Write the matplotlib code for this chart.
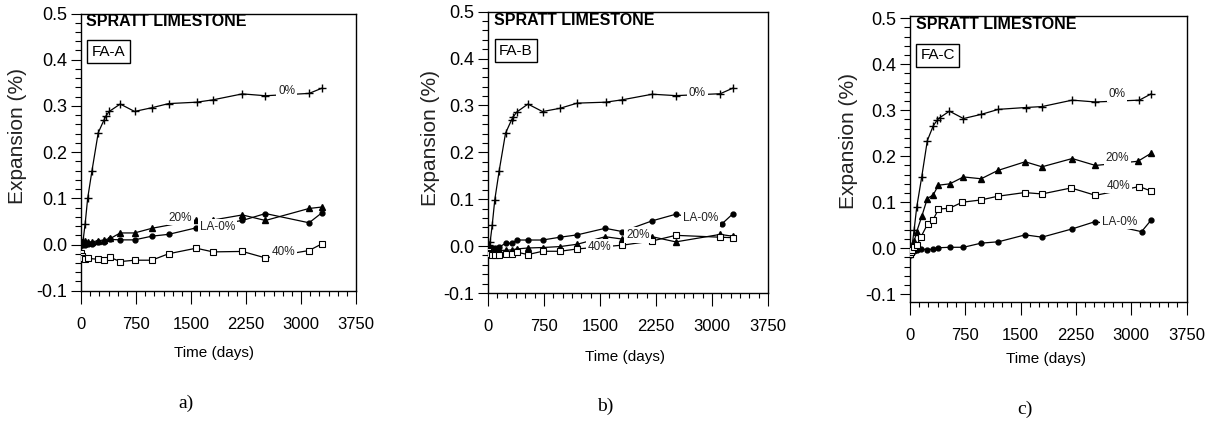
import matplotlib
matplotlib.use("Agg")
import matplotlib.pyplot as plt
from matplotlib.ticker import MultipleLocator, FormatStrFormatter

plt.rcParams["font.family"] = ["Liberation Sans", "DejaVu Sans"]
NARROW = ["Liberation Sans Narrow", "Liberation Sans", "DejaVu Sans"]

# ---- data (days, expansion %) ----
# panel a) FA-A
a_days_0 = [0, 14, 28, 56, 91, 150, 235, 315, 340, 385, 535, 730, 965, 1195, 1575, 1795, 2200, 2515, 3110, 3280]
a_exp_0 = [0.0, 0.003, 0.008, 0.044, 0.10, 0.16, 0.242, 0.27, 0.278, 0.288, 0.304, 0.288, 0.296, 0.305, 0.308, 0.313, 0.326, 0.322, 0.327, 0.338]
a_days_20 = [0, 14, 28, 56, 91, 150, 235, 315, 400, 535, 730, 965, 1570, 1800, 2200, 2515, 3110, 3280]
a_exp_20 = [0.002, 0.006, 0.004, 0.008, 0.005, 0.006, 0.008, 0.010, 0.013, 0.025, 0.025, 0.035, 0.053, 0.053, 0.064, 0.052, 0.078, 0.081]
a_days_la = [0, 14, 28, 56, 91, 150, 235, 315, 400, 535, 730, 965, 1195, 1570, 2200, 2515, 3110, 3280]
a_exp_la = [-0.002, 0.0, 0.002, 0.0, 0.001, 0.002, 0.005, 0.005, 0.011, 0.010, 0.010, 0.018, 0.022, 0.036, 0.052, 0.067, 0.047, 0.068]
a_days_40 = [0, 14, 28, 56, 91, 235, 315, 400, 535, 730, 965, 1195, 1570, 1800, 2200, 2515, 3110, 3280]
a_exp_40 = [-0.018, -0.025, -0.030, -0.032, -0.030, -0.032, -0.034, -0.028, -0.037, -0.034, -0.034, -0.020, -0.008, -0.016, -0.015, -0.029, -0.013, 0.001]

# panel b) FA-B
b_days_0 = [0, 14, 28, 56, 91, 150, 235, 315, 340, 385, 535, 730, 965, 1195, 1575, 1795, 2200, 2515, 3110, 3280]
b_exp_0 = [0.0, 0.003, 0.008, 0.044, 0.099, 0.161, 0.241, 0.269, 0.276, 0.286, 0.303, 0.287, 0.294, 0.305, 0.307, 0.312, 0.324, 0.321, 0.325, 0.337]
b_days_la = [0, 14, 28, 56, 91, 150, 235, 315, 385, 535, 730, 965, 1195, 1570, 1800, 2200, 2515, 3130, 3280]
b_exp_la = [-0.002, -0.004, -0.003, -0.005, -0.004, -0.002, 0.006, 0.006, 0.013, 0.013, 0.013, 0.019, 0.024, 0.038, 0.031, 0.054, 0.068, 0.047, 0.069]
b_days_20 = [0, 14, 28, 56, 91, 150, 235, 315, 385, 535, 730, 965, 1195, 1570, 1800, 2200, 2515, 3110, 3280]
b_exp_20 = [-0.002, -0.006, -0.008, -0.009, -0.010, -0.009, -0.009, -0.008, -0.006, -0.004, -0.003, -0.001, 0.004, 0.020, 0.015, 0.020, 0.009, 0.025, 0.021]
b_days_40 = [0, 14, 28, 56, 91, 150, 235, 315, 385, 535, 730, 965, 1195, 1800, 2200, 2515, 3110, 3280]
b_exp_40 = [-0.010, -0.014, -0.016, -0.018, -0.020, -0.018, -0.016, -0.017, -0.013, -0.018, -0.011, -0.011, -0.006, 0.002, 0.011, 0.023, 0.019, 0.018]

# panel c) FA-C
c_days_0 = [0, 14, 28, 56, 91, 159, 235, 315, 370, 405, 535, 725, 965, 1200, 1570, 1790, 2200, 2515, 3110, 3275]
c_exp_0 = [-0.010, -0.005, 0.005, 0.040, 0.089, 0.155, 0.234, 0.266, 0.279, 0.284, 0.298, 0.282, 0.291, 0.302, 0.306, 0.308, 0.322, 0.318, 0.322, 0.336]
c_days_20 = [0, 14, 28, 56, 91, 159, 235, 315, 385, 540, 725, 965, 1190, 1562, 1790, 2200, 2515, 3090, 3265]
c_exp_20 = [-0.012, -0.005, 0.0, 0.015, 0.036, 0.069, 0.108, 0.116, 0.137, 0.140, 0.155, 0.151, 0.169, 0.188, 0.177, 0.195, 0.180, 0.189, 0.206]
c_days_40 = [0, 14, 28, 56, 91, 150, 240, 315, 385, 535, 710, 965, 1190, 1555, 1790, 2185, 2515, 3110, 3275]
c_exp_40 = [-0.012, -0.008, -0.003, 0.002, 0.006, 0.025, 0.053, 0.062, 0.085, 0.087, 0.100, 0.105, 0.113, 0.121, 0.118, 0.131, 0.115, 0.134, 0.124]
c_days_la = [0, 14, 28, 56, 91, 150, 235, 315, 385, 540, 725, 965, 1200, 1562, 1790, 2200, 2515, 3140, 3275]
c_exp_la = [-0.015, -0.012, -0.008, -0.005, -0.003, -0.002, -0.003, -0.002, 0.001, 0.002, 0.002, 0.011, 0.014, 0.029, 0.024, 0.042, 0.058, 0.036, 0.062]

panel_names = ["FA-A", "FA-B", "FA-C"]
captions = ["a)", "b)", "c)"]
x_ticks = [0, 750, 1500, 2250, 3000, 3750]

# inline series labels: (text, day, expansion)
a_labels = [("0%", 2690, 0.332), ("20%", 1195, 0.058), ("LA-0%", 1620, 0.038), ("40%", 2600, -0.017)]
b_labels = [("0%", 2690, 0.326), ("LA-0%", 2610, 0.059), ("20%", 1850, 0.024), ("40%", 1340, -0.002)]
c_labels = [("0%", 2690, 0.335), ("20%", 2650, 0.196), ("40%", 2670, 0.136), ("LA-0%", 2600, 0.058)]

W, H = 1213, 425
fig = plt.figure(figsize=(W / 100, H / 100), dpi=100)


def px_axes(l, t, r, b):
    return fig.add_axes([l / W, 1 - b / H, (r - l) / W, (b - t) / H])


def draw_panel(ax, series, labels, name, ylim):
    styles = {
        "0": dict(marker="+", ms=5.5, mew=1.0, color="black"),
        "20": dict(marker="^", ms=4, color="black"),
        "la": dict(marker="o", ms=3.5, color="black"),
        "40": dict(marker="s", ms=4, mfc="white", mec="black", mew=0.8, color="black"),
    }
    for key, days, vals in series:
        ax.plot(days, vals, lw=0.9, zorder=3, **styles[key])
    for txt, x, y in labels:
        ax.text(x, y, txt, ha="left", va="center", fontsize=8.5, color="#222222",
                bbox=dict(boxstyle="square,pad=0.15", fc="white", ec="none"), zorder=5)

    ax.set_xlim(0, 3750)
    ax.set_ylim(*ylim)
    ax.xaxis.set_major_locator(MultipleLocator(750))
    ax.xaxis.set_minor_locator(MultipleLocator(125))
    ax.yaxis.set_major_locator(MultipleLocator(0.1))
    ax.yaxis.set_minor_locator(MultipleLocator(0.02))
    ax.yaxis.set_major_formatter(FormatStrFormatter("%.1f"))
    ax.set_xticks(x_ticks)
    ax.tick_params(axis="x", which="major", direction="out", length=9, width=0.8, pad=10, labelsize=12)
    ax.tick_params(axis="x", which="minor", direction="out", length=3.5, width=0.8)
    ax.tick_params(axis="y", which="major", direction="out", length=7, width=0.8, pad=3, labelsize=13)
    ax.tick_params(axis="y", which="minor", direction="out", length=4, width=0.8)
    for lab in ax.get_xticklabels():
        lab.set_family(NARROW)
    for sp in ax.spines.values():
        sp.set_linewidth(1.0)

    ax.text(0.02, 0.97, "SPRATT LIMESTONE", transform=ax.transAxes, ha="left", va="center",
            fontsize=11.5, fontweight="bold")
    ax.text(0.10, 0.862, name, transform=ax.transAxes, ha="center", va="center", fontsize=11,
            bbox=dict(boxstyle="square,pad=0.3", fc="white", ec="black", lw=1.0))


ax_a = px_axes(81, 13.5, 356, 290.7)
ax_b = px_axes(488, 11.7, 768, 293)
ax_c = px_axes(910, 16, 1186.5, 302)

draw_panel(ax_a, [("0", a_days_0, a_exp_0), ("20", a_days_20, a_exp_20),
                  ("la", a_days_la, a_exp_la), ("40", a_days_40, a_exp_40)],
           a_labels, panel_names[0], (-0.1, 0.5))
draw_panel(ax_b, [("0", b_days_0, b_exp_0), ("20", b_days_20, b_exp_20),
                  ("la", b_days_la, b_exp_la), ("40", b_days_40, b_exp_40)],
           b_labels, panel_names[1], (-0.1, 0.5))
draw_panel(ax_c, [("0", c_days_0, c_exp_0), ("20", c_days_20, c_exp_20),
                  ("la", c_days_la, c_exp_la), ("40", c_days_40, c_exp_40)],
           c_labels, panel_names[2], (-0.117, 0.505))

# axis titles and captions placed in pixel positions
ylab_pos = [(18, 136), (430, 138), (848, 141)]
xlab_pos = [(214, 353), (625, 357), (1046, 359)]
cap_pos = [(186, 403), (605, 406), (1025, 409)]
for i in range(3):
    x, y = ylab_pos[i]
    fig.text(x / W, 1 - y / H, "Expansion (%)", rotation=90, ha="center", va="center",
             fontsize=15, color="#222222")
    x, y = xlab_pos[i]
    fig.text(x / W, 1 - y / H, "Time (days)", ha="center", va="center", fontsize=11,
             family=NARROW)
    x, y = cap_pos[i]
    fig.text(x / W, 1 - y / H, captions[i], ha="center", va="center", fontsize=14,
             family=["Liberation Serif", "DejaVu Serif"])

fig.savefig("out.png", dpi=100)
